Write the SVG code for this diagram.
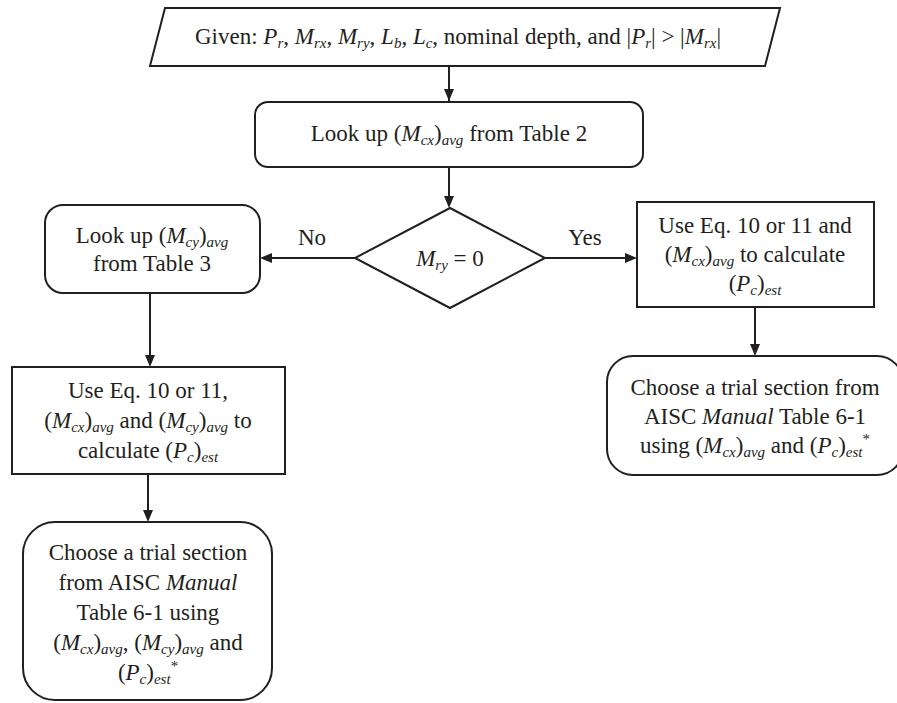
<svg xmlns="http://www.w3.org/2000/svg" width="897" height="703" viewBox="0 0 897 703">
<defs>
<style>
.t{font-family:"Liberation Serif","Times New Roman",serif;font-size:23px;fill:#231f20;text-anchor:middle}
.i{font-style:italic}
.s{font-size:15px;font-style:italic}
.sp{font-size:15px}
.shape{fill:#fff;stroke:#231f20;stroke-width:2}
.ln{stroke:#231f20;stroke-width:2;fill:none}
</style>
<marker id="ah" viewBox="0 0 10 10" refX="10" refY="5" markerWidth="10" markerHeight="10" markerUnits="userSpaceOnUse" orient="auto">
<path d="M0,1 L10,5 L0,9 Z" fill="#231f20"/>
</marker>
</defs>
<rect width="897" height="703" fill="#fff"/>
<g id="connectors">
<line class="ln" x1="449" y1="66" x2="449" y2="101" marker-end="url(#ah)" style="marker-end:none"/>
<path d="M444,89 L454,89 L449,101 Z" fill="#231f20"/>
<line class="ln" x1="449" y1="167" x2="449" y2="196"/>
<path d="M444,196 L454,196 L449,208 Z" fill="#231f20"/>
<line class="ln" x1="355" y1="258" x2="272" y2="258"/>
<path d="M272,253 L272,263 L260,258 Z" fill="#231f20"/>
<line class="ln" x1="545" y1="258" x2="625" y2="258"/>
<path d="M625,253 L625,263 L637,258 Z" fill="#231f20"/>
<line class="ln" x1="150" y1="293" x2="150" y2="355"/>
<path d="M145,355 L155,355 L150,367 Z" fill="#231f20"/>
<line class="ln" x1="148" y1="474" x2="148" y2="510"/>
<path d="M143,510 L153,510 L148,522 Z" fill="#231f20"/>
<line class="ln" x1="755" y1="307" x2="755" y2="344"/>
<path d="M750,344 L760,344 L755,356 Z" fill="#231f20"/>
<text class="t" x="312" y="245">No</text>
<text class="t" x="585" y="245">Yes</text>
</g>
<g id="given">
<polygon class="shape" points="165,8 780,8 765,66 150,66"/>
<text class="t" x="458" y="44">Given: <tspan class="i">P</tspan><tspan class="s" dy="4">r</tspan><tspan dy="-4">, </tspan><tspan class="i">M</tspan><tspan class="s" dy="4">rx</tspan><tspan dy="-4">, </tspan><tspan class="i">M</tspan><tspan class="s" dy="4">ry</tspan><tspan dy="-4">, </tspan><tspan class="i">L</tspan><tspan class="s" dy="4">b</tspan><tspan dy="-4">, </tspan><tspan class="i">L</tspan><tspan class="s" dy="4">c</tspan><tspan dy="-4">, nominal depth, and |</tspan><tspan class="i">P</tspan><tspan class="s" dy="4">r</tspan><tspan dy="-4">| &gt; |</tspan><tspan class="i">M</tspan><tspan class="s" dy="4">rx</tspan><tspan dy="-4">|</tspan></text>
</g>
<g id="lookup-mcx">
<rect class="shape" x="255" y="102" width="388" height="65" rx="13"/>
<text class="t" x="449" y="141">Look up (<tspan class="i">M</tspan><tspan class="s" dy="4">cx</tspan><tspan dy="-4">)</tspan><tspan class="s" dy="4">avg</tspan><tspan dy="-4"> from Table 2</tspan></text>
</g>
<g id="decision">
<polygon class="shape" points="450,208 545,258 450,308 355,258"/>
<text class="t" x="450" y="266"><tspan class="i">M</tspan><tspan class="s" dy="4">ry</tspan><tspan dy="-4"> = 0</tspan></text>
</g>
<g id="lookup-mcy">
<rect class="shape" x="45" y="205" width="215" height="88" rx="18"/>
<text class="t" x="152" y="243">Look up (<tspan class="i">M</tspan><tspan class="s" dy="4">cy</tspan><tspan dy="-4">)</tspan><tspan class="s" dy="4">avg</tspan></text>
<text class="t" x="152" y="271">from Table 3</text>
</g>
<g id="calc-left">
<rect class="shape" x="12" y="367" width="273" height="107"/>
<text class="t" x="148" y="398">Use Eq. 10 or 11,</text>
<text class="t" x="148" y="428">(<tspan class="i">M</tspan><tspan class="s" dy="4">cx</tspan><tspan dy="-4">)</tspan><tspan class="s" dy="4">avg</tspan><tspan dy="-4"> and (</tspan><tspan class="i">M</tspan><tspan class="s" dy="4">cy</tspan><tspan dy="-4">)</tspan><tspan class="s" dy="4">avg</tspan><tspan dy="-4"> to</tspan></text>
<text class="t" x="148" y="458">calculate (<tspan class="i">P</tspan><tspan class="s" dy="4">c</tspan><tspan dy="-4">)</tspan><tspan class="s" dy="4">est</tspan></text>
</g>
<g id="choose-left">
<rect class="shape" x="23" y="522" width="249" height="178" rx="32"/>
<text class="t" x="148" y="560">Choose a trial section</text>
<text class="t" x="148" y="590">from AISC <tspan class="i">Manual</tspan></text>
<text class="t" x="148" y="620">Table 6-1 using</text>
<text class="t" x="148" y="650">(<tspan class="i">M</tspan><tspan class="s" dy="4">cx</tspan><tspan dy="-4">)</tspan><tspan class="s" dy="4">avg</tspan><tspan dy="-4">, (</tspan><tspan class="i">M</tspan><tspan class="s" dy="4">cy</tspan><tspan dy="-4">)</tspan><tspan class="s" dy="4">avg</tspan><tspan dy="-4"> and</tspan></text>
<text class="t" x="148" y="680">(<tspan class="i">P</tspan><tspan class="s" dy="4">c</tspan><tspan dy="-4">)</tspan><tspan class="s" dy="4">est</tspan><tspan class="sp" dy="-13">*</tspan></text>
</g>
<g id="calc-right">
<rect class="shape" x="637" y="202" width="237" height="105"/>
<text class="t" x="755" y="233">Use Eq. 10 or 11 and</text>
<text class="t" x="755" y="262">(<tspan class="i">M</tspan><tspan class="s" dy="4">cx</tspan><tspan dy="-4">)</tspan><tspan class="s" dy="4">avg</tspan><tspan dy="-4"> to calculate</tspan></text>
<text class="t" x="755" y="291">(<tspan class="i">P</tspan><tspan class="s" dy="4">c</tspan><tspan dy="-4">)</tspan><tspan class="s" dy="4">est</tspan></text>
</g>
<g id="choose-right">
<rect class="shape" x="607" y="356" width="296" height="119" rx="26"/>
<text class="t" x="755" y="395">Choose a trial section from</text>
<text class="t" x="755" y="424">AISC <tspan class="i">Manual</tspan> Table 6-1</text>
<text class="t" x="755" y="453">using (<tspan class="i">M</tspan><tspan class="s" dy="4">cx</tspan><tspan dy="-4">)</tspan><tspan class="s" dy="4">avg</tspan><tspan dy="-4"> and (</tspan><tspan class="i">P</tspan><tspan class="s" dy="4">c</tspan><tspan dy="-4">)</tspan><tspan class="s" dy="4">est</tspan><tspan class="sp" dy="-13">*</tspan></text>
</g>
</svg>
